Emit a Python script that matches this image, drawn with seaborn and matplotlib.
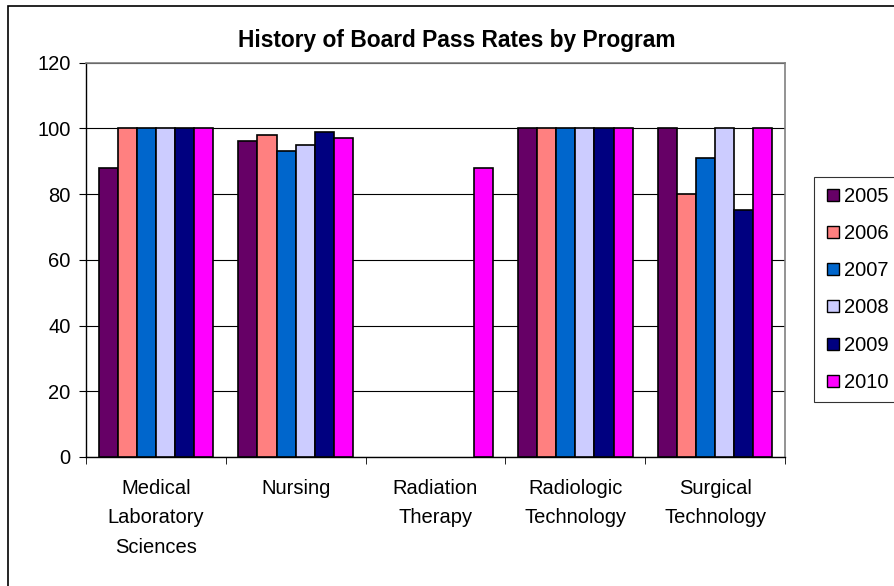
import pandas as pd
import matplotlib.pyplot as plt
import seaborn as sns
from matplotlib.patches import Rectangle
from matplotlib.lines import Line2D

programs = ["Medical\nLaboratory\nSciences", "Nursing", "Radiation\nTherapy",
            "Radiologic\nTechnology", "Surgical\nTechnology"]
years = ["2005", "2006", "2007", "2008", "2009", "2010"]
rate_2005 = [88, 96, None, 100, 100]
rate_2006 = [100, 98, None, 100, 80]
rate_2007 = [100, 93, None, 100, 91]
rate_2008 = [100, 95, None, 100, 100]
rate_2009 = [100, 99, None, 100, 75]
rate_2010 = [100, 97, 88, 100, 100]
colors = ["#660066", "#FF8080", "#0066CC", "#CCCCFF", "#000080", "#FF00FF"]

rates = [rate_2005, rate_2006, rate_2007, rate_2008, rate_2009, rate_2010]
rows = []
for y, vals in zip(years, rates):
    for p, v in zip(programs, vals):
        rows.append({"Program": p, "Year": y, "Rate": v})
df = pd.DataFrame(rows)

sns.set_style("white")
plt.rcParams['font.family'] = ['Liberation Sans', 'DejaVu Sans']
plt.rcParams['text.color'] = 'black'
plt.rcParams['xtick.color'] = 'black'
plt.rcParams['ytick.color'] = 'black'

fig = plt.figure(figsize=(8.94, 5.86), dpi=100)
ax = fig.add_axes([86 / 894, 1 - 457 / 586, (785 - 86) / 894, (457 - 62.5) / 586])

sns.barplot(data=df, x="Program", y="Rate", hue="Year", hue_order=years,
            palette=colors, saturation=1, width=0.82, edgecolor="black",
            linewidth=1.2, ax=ax, legend=False, zorder=3)

ax.set_ylim(0, 120)
ax.set_xlim(-0.5, 4.5)
ax.set_yticks(range(0, 121, 20))
ax.yaxis.grid(True, color="black", linewidth=0.8, zorder=0)
ax.set_xlabel("")
ax.set_ylabel("")
ax.set_xticks(range(5))
ax.set_xticklabels(programs, fontsize=14.5, linespacing=1.7)
ax.set_xticks([i - 0.5 for i in range(6)], minor=True)
ax.tick_params(axis="x", which="major", length=0, pad=15.5)
ax.tick_params(axis="x", which="minor", length=5, color="black", direction="out", bottom=True)
ax.tick_params(axis="y", length=5, color="black", direction="out", left=True,
               labelsize=14.5, pad=6)
for s in ["left", "bottom"]:
    ax.spines[s].set_color("black")
    ax.spines[s].set_linewidth(1)
for s in ["top", "right"]:
    ax.spines[s].set_color("#808080")
    ax.spines[s].set_linewidth(1.2)

fig.text(457 / 894, 1 - 40 / 586, "History of Board Pass Rates by Program",
         fontsize=16.4, fontweight="bold", ha="center", va="center")

handles = [Line2D([], [], marker="s", linestyle="", markersize=8,
                  markerfacecolor=c, markeredgecolor="black") for c in colors]
leg = fig.legend(handles, years, loc="upper left", bbox_to_anchor=(814 / 894, 1 - 177 / 586),
                 fontsize=14.5, frameon=True, fancybox=False, labelspacing=0.9,
                 handletextpad=0.1, borderpad=0.5, borderaxespad=0, handlelength=0.9)
leg.get_frame().set_edgecolor("black")
leg.get_frame().set_linewidth(0.8)

fig.patches.append(Rectangle((8 / 894, -0.05), 1.2, 1.05 - 6 / 586, transform=fig.transFigure,
                             fill=False, edgecolor="black", linewidth=1.2))

fig.savefig("out.png", dpi=100)
